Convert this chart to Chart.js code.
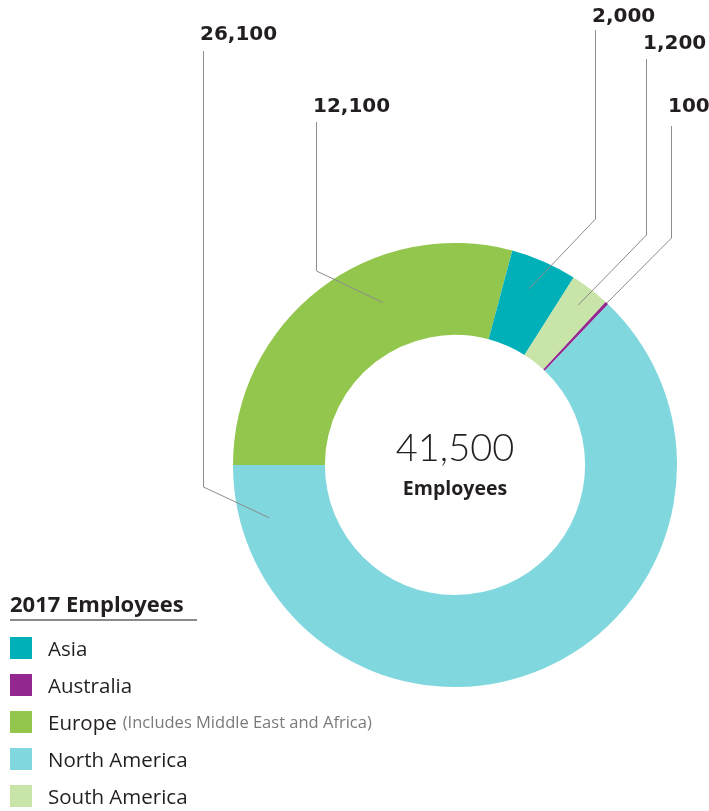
<!DOCTYPE html>
<html>
<head>
<meta charset="utf-8">
<script src="https://cdn.jsdelivr.net/npm/chart.js@4.4.1/dist/chart.umd.min.js"></script>
<style>
  html, body { margin: 0; padding: 0; background: #fff; }
  #wrap { position: relative; width: 709px; height: 811px; overflow: hidden; }
  #myChart { position: absolute; left: 0; top: 0; }
  #legend { position: absolute; left: 10px; top: 588px; font-family: "Open Sans", sans-serif; color: #231f20; }
  #legend .title { font-size: 22px; font-weight: 700; line-height: 30px; padding-bottom: 1px; border-bottom: 2px solid #8a8a8a; width: 187px; margin-bottom: 16px; white-space: nowrap; }
  #legend .item { height: 37px; display: flex; align-items: flex-start; font-size: 20.5px; line-height: 22px; white-space: nowrap; }
  #legend .sw { width: 22px; height: 22px; margin-right: 16px; flex: none; }
  #legend .note { font-size: 16.5px; color: #7a7a7a; margin-left: 6px; }
</style>
</head>
<body>
<div id="wrap">
  <canvas id="myChart" width="709" height="811"></canvas>
  <div id="legend"></div>
</div>
<script>
(() => {
  'use strict'

  // data, in the order the slices run clockwise from 9 o'clock
  const regions = ['Europe', 'Asia', 'South America', 'Australia', 'North America']
  const employees = [12100, 2000, 1200, 100, 26100]
  const colors = ['#92c64c', '#00b0b9', '#c9e4a9', '#93278f', '#80d7de']
  const notes = { 'Europe': '(Includes Middle East and Africa)' }
  const legendTitle = '2017 Employees'
  const centerLabel = 'Employees'

  // leader lines: [line x, text y, line top, elbow y, position along slice, radius ratio]
  const leaders = [
    [316, 107, 122, 271, 0.63, 0.80],
    [595, 17, 30, 219, 0.45, 0.86],
    [646, 44, 59, 235, 0.51, 0.91],
    [671, 107, 126, 238, 0.5, 1.0],
    [203, 35, 51, 487, 0.93, 0.87]
  ]

  const total = employees.reduce((a, b) => a + b, 0)

  const labelsPlugin = {
    id: 'leaders',
    afterDraw(chart) {
      const ctx = chart.ctx
      const arcs = chart.getDatasetMeta(0).data
      ctx.save()
      arcs.forEach((arc, i) => {
        const p = arc.getProps(['x', 'y', 'startAngle', 'endAngle', 'outerRadius'], true)
        const [lx, ty, top, elbow, f, rr] = leaders[i]
        const a = p.startAngle + f * (p.endAngle - p.startAngle)
        const r = p.outerRadius * rr
        const ex = p.x + r * Math.cos(a)
        const ey = p.y + r * Math.sin(a)
        ctx.strokeStyle = '#8c8c8c'
        ctx.lineWidth = 1
        ctx.beginPath()
        ctx.moveTo(lx + 0.5, top)
        ctx.lineTo(lx + 0.5, elbow)
        ctx.lineTo(ex, ey)
        ctx.stroke()
        ctx.fillStyle = '#231f20'
        ctx.font = 'bold 20px "DejaVu Sans"'
        ctx.textAlign = 'left'
        ctx.textBaseline = 'middle'
        ctx.fillText(employees[i].toLocaleString('en-US'), lx - 3, ty)
      })
      const c = arcs[0]
      ctx.textAlign = 'center'
      ctx.fillStyle = '#231f20'
      ctx.font = '300 38px Lato'
      ctx.fillText(total.toLocaleString('en-US'), c.x, c.y - 16)
      ctx.font = 'bold 19.5px "Open Sans"'
      ctx.fillText(centerLabel, c.x, c.y + 24)
      ctx.restore()
    }
  }

  const ctx = document.getElementById('myChart')
  // eslint-disable-next-line no-unused-vars
  const myChart = new Chart(ctx, {
    type: 'doughnut',
    data: {
      labels: regions,
      datasets: [{
        data: employees,
        backgroundColor: colors,
        borderWidth: 0
      }]
    },
    options: {
      responsive: false,
      animation: false,
      rotation: -90,
      cutout: '58.6%',
      layout: {
        padding: { left: 233, right: 32, top: 243, bottom: 124 }
      },
      plugins: {
        legend: { display: false },
        tooltip: { enabled: false }
      }
    },
    plugins: [labelsPlugin]
  })

  // html legend, alphabetical
  const legend = document.getElementById('legend')
  let html = '<div class="title">' + legendTitle + '</div>'
  regions.map((r, i) => i).sort((a, b) => regions[a].localeCompare(regions[b])).forEach(i => {
    html += '<div class="item"><span class="sw" style="background:' + colors[i] + '"></span>' +
      '<span>' + regions[i] + '</span>' +
      (notes[regions[i]] ? '<span class="note">' + notes[regions[i]] + '</span>' : '') + '</div>'
  })
  legend.innerHTML = html
})()
</script>
</body>
</html>
